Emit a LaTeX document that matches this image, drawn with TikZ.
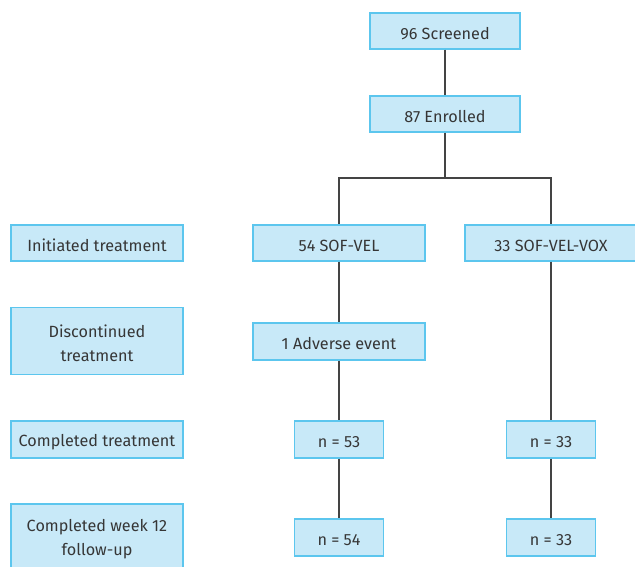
\documentclass[tikz,border=0pt]{standalone}
\usepackage{fontspec}
\setmainfont{Fira Sans}
\definecolor{boxfill}{HTML}{C8E9F8}
\definecolor{boxline}{HTML}{5CC6EE}
\definecolor{linkc}{HTML}{444444}
\definecolor{txtc}{HTML}{363636}
\begin{document}
\begin{tikzpicture}[x=1pt,y=-1pt,
  box/.style={draw=boxline,fill=boxfill,line width=1.3pt,inner sep=0pt},
  boxtext/.style={text=txtc,font=\fontsize{16.2}{24}\selectfont,align=center,inner sep=0pt,yshift=-2.5pt},
  link/.style={draw=linkc,line width=1.3pt}]
\useasboundingbox (0,0) rectangle (635,567);
\clip (0,0) rectangle (635,567);
\node[box,minimum width=150pt,minimum height=36pt,label={[boxtext]center:96 Screened}] (scr) at (445,31) {};
\node[box,minimum width=150pt,minimum height=36pt,label={[boxtext]center:87 Enrolled}] (enr) at (445,114) {};
% left labels
\node[box,minimum width=172pt,minimum height=36pt,label={[boxtext]center:Initiated treatment}] (lab1) at (97,243) {};
\node[box,minimum width=172pt,minimum height=67pt,label={[boxtext]center:Discontinued\\treatment}] (lab2) at (97,341) {};
\node[box,minimum width=172pt,minimum height=37pt,label={[boxtext]center:Completed treatment}] (lab3) at (97,439.5) {};
\node[box,minimum width=172pt,minimum height=66pt,label={[boxtext]center:Completed week 12\\follow-up}] (lab4) at (97,537) {};
% arms
\node[box,minimum width=172pt,minimum height=36pt,label={[boxtext]center:54 SOF-VEL}] (sv) at (339,243) {};
\node[box,minimum width=172pt,minimum height=36pt,label={[boxtext]center:33 SOF-VEL-VOX}] (svv) at (551,243) {};
\node[box,minimum width=172pt,minimum height=37pt,label={[boxtext]center:1 Adverse event}] (ae) at (339,341.5) {};
\node[box,minimum width=89pt,minimum height=37pt,label={[boxtext]center:n = 53}] (c1) at (339,439.5) {};
\node[box,minimum width=89pt,minimum height=37pt,label={[boxtext]center:n = 33}] (c2) at (551,439.5) {};
\node[box,minimum width=89pt,minimum height=37pt,label={[boxtext]center:n = 54}] (f1) at (339,537.5) {};
\node[box,minimum width=89pt,minimum height=37pt,label={[boxtext]center:n = 33}] (f2) at (551,537.5) {};
\coordinate (split) at (445,178);
\draw[link] (scr) -- (enr);
\draw[link] (enr) -- (split);
\draw[link] (split) -| (sv);
\draw[link] (split) -| (svv);
\draw[link] (sv) -- (ae);
\draw[link] (ae) -- (c1);
\draw[link] (c1) -- (f1);
\draw[link] (svv) -- (c2);
\draw[link] (c2) -- (f2);
\end{tikzpicture}
\end{document}
